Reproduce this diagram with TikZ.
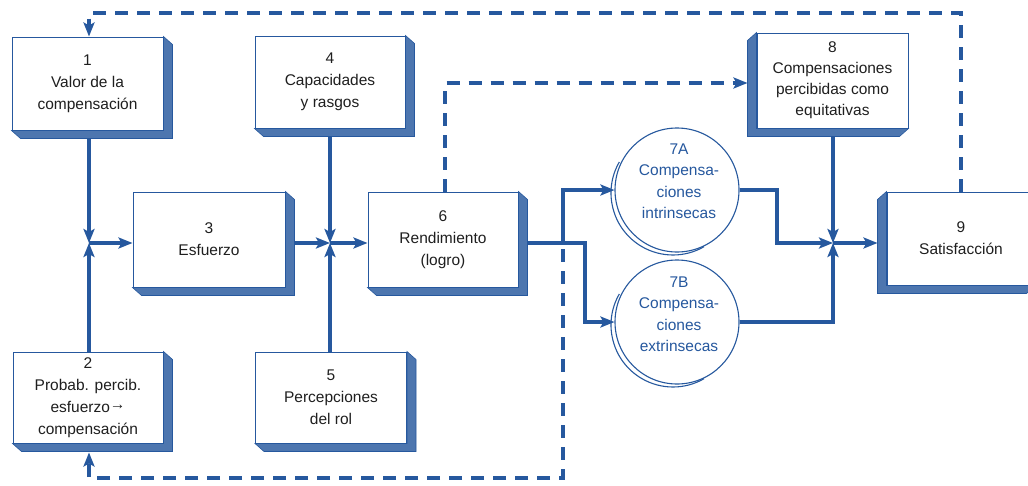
\documentclass[tikz,border=0pt]{standalone}
\usepackage{fontspec}
\setmainfont{Liberation Sans}
\usetikzlibrary{arrows.meta,calc}
\definecolor{dblue}{RGB}{38,88,158}
\pgfdeclarelayer{bg}\pgfsetlayers{bg,main}
\tikzset{
  box/.style={draw=dblue, line width=1pt, fill=white, minimum width=151pt, minimum height=93pt,
    align=center, inner sep=0pt, text=black!88, font=\fontsize{15.5}{22}\selectfont},
  depth/.style={fill=dblue!82, draw=dblue, line width=0.6pt},
  tip/.style={-{Stealth[length=14pt,width=11pt,inset=3pt]}},
  conn/.style={draw=dblue, line width=3.2pt, tip},
  fbarr/.style={draw=dblue, line width=3.2pt, dash pattern=on 13pt off 9pt, tip},
  circ/.style={circle, draw=dblue, line width=1.1pt, fill=white, minimum size=124pt, inner sep=0pt},
  ctext/.style={text=dblue, align=center, font=\fontsize{15.5}{21.5}\selectfont},
  cres/.style={draw=dblue, line width=1.1pt}
}
\newcommand\depthR[1]{\filldraw[depth] (#1.north east) -- ++(9,8) -- ($(#1.south east)+(9,8)$) -- ($(#1.south west)+(9,8)$) -- (#1.south west) -- (#1.south east) -- cycle;}
\newcommand\depthL[1]{\filldraw[depth] (#1.north west) -- ++(-9,8) -- ($(#1.south west)+(-9,8)$) -- ($(#1.south east)+(-9,8)$) -- (#1.south east) -- (#1.south west) -- cycle;}
\begin{document}
\begin{tikzpicture}[x=1pt, y=-1pt]
\clip (0,0) rectangle (1028,485);
% boxes
\node[box] (b1) at (87.5,83.5) {1\\Valor de la\\compensación};
\node[box, minimum width=150pt, minimum height=92pt] (b4) at (330,82) {4\\Capacidades\\y rasgos};
\node[box, minimum width=152pt, minimum height=95pt] (b3) at (209,239.5) {3\\Esfuerzo};
\node[box, minimum width=150pt, minimum height=95pt] (b6) at (443,239.5) {6\\Rendimiento\\(logro)};
\node[box, minimum width=150pt, minimum height=91pt] (b2) at (88,397.5) {2\\Probab. percib.\\esfuerzo\raisebox{3pt}{→}\\compensación};
\node[box, minimum width=151pt, minimum height=91pt] (b5) at (331,397.5) {5\\Percepciones\\del rol};
\node[box, minimum width=151pt, minimum height=95pt, font=\fontsize{15.5}{21}\selectfont] (b8) at (832.5,80.5) {8\\Compensaciones\\percibidas como\\equitativas};
\node[box, minimum width=148pt, minimum height=93pt] (b9) at (961,238.5) {9\\Satisfacción};
\depthR{b1}\depthR{b4}\depthR{b3}\depthR{b6}\depthR{b2}\depthR{b5}
\depthL{b8}\depthL{b9}
% circles
\node[circ] (c7a) at (677,190) {};
\node[circ] (c7b) at (677,322) {};
\draw[cres] ($(c7a.center)+(-4,3)$) ++(150:62pt) arc[start angle=150, end angle=300, radius=62pt];
\draw[cres] ($(c7b.center)+(-4,3)$) ++(150:62pt) arc[start angle=150, end angle=300, radius=62pt];
\node[ctext] (t7a) at (679,181) {7A\\Compensa-\\ciones\\intrinsecas};
\node[ctext] (t7b) at (679,314) {7B\\Compensa-\\ciones\\extrinsecas};
% coordinates
\coordinate (J1) at (89,243);
\coordinate (J2) at (330,243);
\coordinate (J3) at (833,243);
\coordinate (S1) at (563,243);
\coordinate (S2) at (585,243);
\coordinate (K1) at (777,243);
\coordinate (D1) at (445,83);
\coordinate (T1) at (961,13);
\coordinate (T2) at (89,13);
\coordinate (B1) at (563,478);
\coordinate (B2) at (89,478);
\begin{pgfonlayer}{bg}
\fill[white] (0,0) rectangle (1028,485);
\draw[conn] (b1.south -| J1) -- (J1);
\draw[conn] (b2.north -| J1) -- (J1);
\draw[conn] (J1) -- (b3.west |- J1);
\draw[conn] (b3.east |- J2) -- (J2);
\draw[conn] (b4.south -| J2) -- (J2);
\draw[conn] (b5.north -| J2) -- (J2);
\draw[conn] (J2) -- (b6.west |- J2);
\draw[conn] (b6.east |- S1) -- (S2) |- (c7b.west);
\draw[conn] (S1) |- (c7a.west);
\draw[conn] (c7a.east) -| (K1) -- (J3);
\draw[conn] (c7b.east) -| (J3);
\draw[conn] (b8.south -| J3) -- (J3);
\draw[conn] (J3) -- ($(b9.west |- J3)+(-9,0)$);
\draw[fbarr] (b6.north -| D1) -- (D1) -- ($(b8.west |- D1)+(-9,0)$);
\draw[fbarr] (b9.north -| T1) -- (T1) -- (T2) -- (b1.north -| T2);
\draw[fbarr] (S1) ++(0,6) -- (B1) -- (B2) -- ($(b2.south -| B2)+(0,9)$);
\end{pgfonlayer}
\end{tikzpicture}
\end{document}
